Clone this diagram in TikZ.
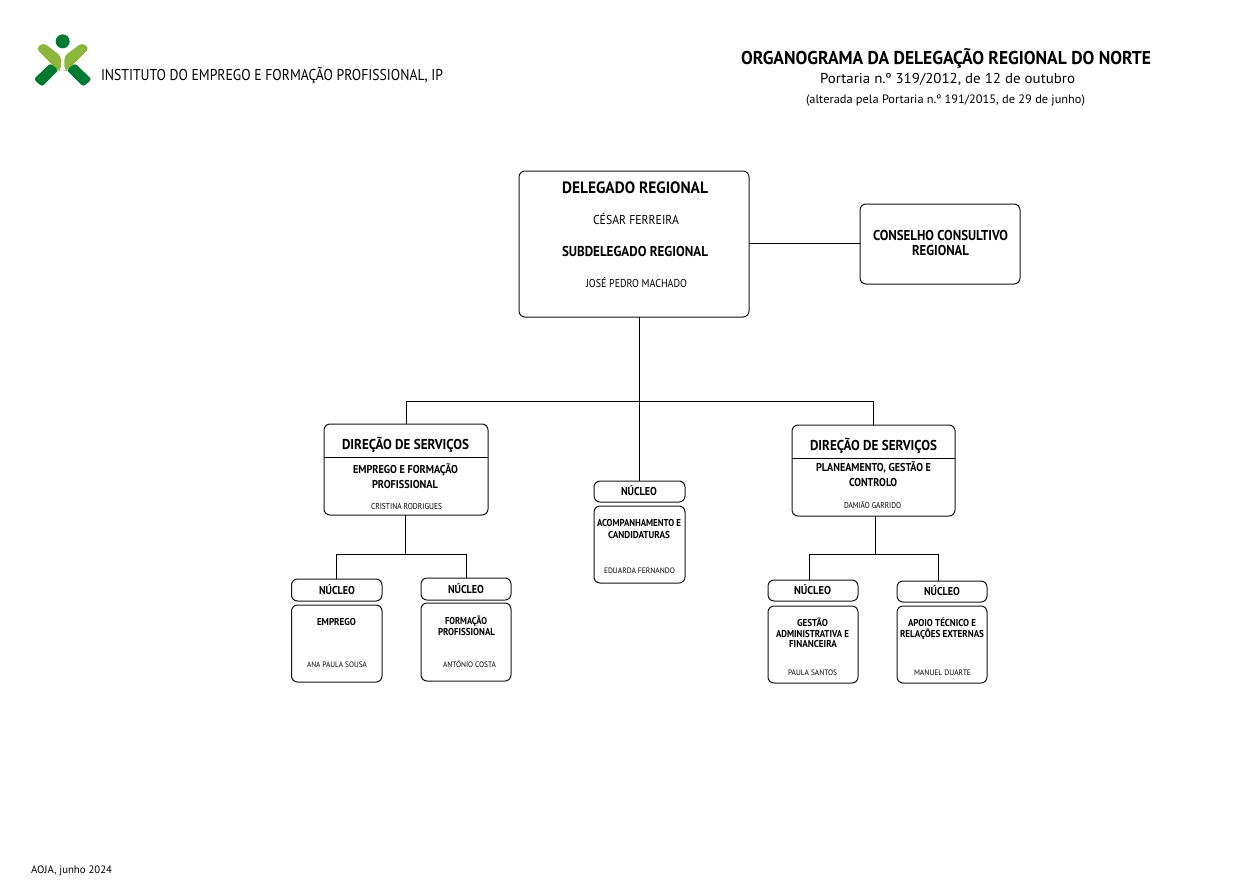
\documentclass[tikz,border=0pt]{standalone}
\usepackage{graphicx}
\usepackage{fontspec}
\setmainfont{PT Sans}
\definecolor{logolight}{RGB}{140,182,60}
\definecolor{logodark}{RGB}{0,122,51}
\definecolor{linecol}{RGB}{20,20,20}
\newsavebox\fitbox
% scale a text horizontally to the width (px) that it has in the reference
\newcommand\fitw[2]{\sbox\fitbox{#2}\pgfmathsetmacro\fitsx{#1*0.75/(\wd\fitbox/1pt)}\scalebox{\fitsx}[1]{\usebox\fitbox}}
% name, x1, x2, y centre, cap height (px), b/r, text
\newcommand\tx[7]{%
  \pgfmathsetmacro\txfs{#5/0.7*0.75}%
  \pgfmathsetmacro\txw{#3-#2}%
  \node[lbl] (#1) at ({(#2+#3)/2},{#4+#5/2}) {\fontsize{\txfs pt}{\txfs pt}\selectfont\ifx b#6\bfseries\fi\fitw{\txw}{#7}};}
% name, x1, y1, x2, y2
\newcommand\bx[5]{%
  \pgfmathsetmacro\bxw{(#4-#2)*0.75}\pgfmathsetmacro\bxh{(#5-#3)*0.75}%
  \node[orgbox,minimum width=\bxw pt,minimum height=\bxh pt] (#1) at ({(#2+#4)/2},{(#3+#5)/2}) {};}
\tikzset{
  orgbox/.style={draw=linecol,line width=0.75pt,rounded corners=4.5pt,inner sep=0pt,outer sep=0pt,fill=white},
  lbl/.style={anchor=base,inner sep=0pt,outer sep=0pt,text=black},
  link/.style={draw=black,line width=0.7pt},
}
\begin{document}
\begin{tikzpicture}[x=0.75pt,y=-0.75pt]
\useasboundingbox (0,0) rectangle (1251,892);
% logo
\begin{scope}[shift={(25,28)},x=0.25pt,y=-0.25pt]
  \fill[logodark] (113,40) circle (21);
  \fill[logolight,rounded corners=3pt] (55,44)--(108,84)--(108,128)--(100,128)--(33,61)--cycle;
  \fill[logolight,rounded corners=3pt] (171,44)--(118,84)--(118,128)--(126,128)--(193,61)--cycle;
  \fill[logodark,rounded corners=2pt] (76,106)--(26,154)--(51,176)--(101,126)--cycle;
  \fill[logodark,rounded corners=2pt] (150,106)--(200,154)--(175,176)--(125,126)--cycle;
\end{scope}
\tx{logotext}{101}{443}{75}{11}{r}{INSTITUTO DO EMPREGO E FORMAÇÃO PROFISSIONAL, IP}
\tx{title}{741}{1151}{58}{13}{b}{ORGANOGRAMA DA DELEGAÇÃO REGIONAL DO NORTE}
\tx{portaria}{820}{1075}{79}{10}{r}{Portaria n.º 319/2012, de 12 de outubro}
\tx{alterada}{806}{1085}{99}{8.5}{r}{(alterada pela Portaria n.º 191/2015, de 29 de junho)}
\tx{aoja}{31}{112}{870}{7.5}{r}{AOJA, junho 2024}
% boxes
\bx{del}{519}{171}{749}{317}
\bx{cons}{860}{204}{1020}{284}
\bx{dsl}{324}{424}{488}{515}
\bx{dsr}{792}{425}{955}{516}
\bx{nh1}{291.5}{579}{382}{601}
\bx{nb1}{291.5}{605}{382}{682}
\bx{nh2}{421}{578}{511}{600}
\bx{nb2}{421}{603}{511}{681}
\bx{nhc}{594}{481}{685}{502}
\bx{nbc}{594}{506}{685}{583}
\bx{nh3}{768}{580}{858}{601}
\bx{nb3}{768}{606}{858}{683}
\bx{nh4}{897}{581}{987}{602}
\bx{nb4}{897}{606}{987}{683}
% connectors
\coordinate (j1) at (639,401);
\coordinate (jl) at (405,554);
\coordinate (jr) at (875,554);
\coordinate (jr3) at (809,554);
\coordinate (jr4) at (938,554);
\coordinate (consy) at (860,243);
\coordinate (dvl) at (324,457.5);
\coordinate (dvr) at (792,458.5);
\draw[link] (consy -| del.east) -- (consy -| cons.west);
\draw[link] (j1 |- del.south) -- (j1);
\draw[link] (j1) -| (dsl.north);
\draw[link] (j1) -| (dsr.north);
\draw[link] (j1) -- (j1 |- nhc.north);
\draw[link] (jl |- dsl.south) -- (jl);
\draw[link] (jl) -| (nh1.north);
\draw[link] (jl) -| (nh2.north);
\draw[link] (jr |- dsr.south) -- (jr);
\draw[link] (jr3) -- (jr4);
\draw[link] (jr3) -- (jr3 |- nh3.north);
\draw[link] (jr4) -- (jr4 |- nh4.north);
\draw[link] (dvl) -- (dvl -| dsl.east);
\draw[link] (dvr) -- (dvr -| dsr.east);
% texts
\tx{t1}{562}{708}{188}{11.5}{b}{DELEGADO REGIONAL}
\tx{t2}{593}{679}{220}{9}{r}{CÉSAR FERREIRA}
\tx{t3}{562}{708}{251}{10}{b}{SUBDELEGADO REGIONAL}
\tx{t4}{586}{687}{283}{8}{r}{JOSÉ PEDRO MACHADO}
\tx{t5}{873}{1008}{235}{10}{b}{CONSELHO CONSULTIVO}
\tx{t6}{912}{969}{250}{10}{b}{REGIONAL}
\tx{t7}{342}{469}{444}{10}{b}{DIREÇÃO DE SERVIÇOS}
\tx{t8}{353}{458}{469}{8}{b}{EMPREGO E FORMAÇÃO}
\tx{t9}{372}{438}{484}{8}{b}{PROFISSIONAL}
\tx{t10}{371}{442}{506}{6}{r}{CRISTINA RODRIGUES}
\tx{t11}{319}{355}{590.5}{8}{b}{NÚCLEO}
\tx{t12}{448}{484}{589}{8}{b}{NÚCLEO}
\tx{t13}{317}{356}{622}{7}{b}{EMPREGO}
\tx{t14}{445}{487}{620.5}{7}{b}{FORMAÇÃO}
\tx{t15}{438}{495}{631.5}{7}{b}{PROFISSIONAL}
\tx{t16}{307}{367}{665}{5.5}{r}{ANA PAULA SOUSA}
\tx{t17}{443}{496}{665}{5.5}{r}{ANTÓNIO COSTA}
\tx{t18}{621}{657}{491.5}{8}{b}{NÚCLEO}
\tx{t19}{597}{681}{523}{7}{b}{ACOMPANHAMENTO E}
\tx{t20}{608}{670}{534.5}{7}{b}{CANDIDATURAS}
\tx{t21}{604}{675}{571}{5.5}{r}{EDUARDA FERNANDO}
\tx{t22}{810}{937}{445}{10}{b}{DIREÇÃO DE SERVIÇOS}
\tx{t23}{816}{931}{467}{8}{b}{PLANEAMENTO, GESTÃO E}
\tx{t24}{849}{897}{482}{8}{b}{CONTROLO}
\tx{t25}{844}{901}{505}{6}{r}{DAMIÃO GARRIDO}
\tx{t26}{794}{831}{590.5}{8}{b}{NÚCLEO}
\tx{t27}{924}{960}{591.5}{8}{b}{NÚCLEO}
\tx{t28}{797}{828}{623}{7}{b}{GESTÃO}
\tx{t29}{776}{849}{633.5}{7}{b}{ADMINISTRATIVA E}
\tx{t30}{789}{837}{644}{7}{b}{FINANCEIRA}
\tx{t31}{788}{837}{673}{5.5}{r}{PAULA SANTOS}
\tx{t32}{908}{976}{623}{7}{b}{APOIO TÉCNICO E}
\tx{t33}{900}{984}{633.5}{7}{b}{RELAÇÕES EXTERNAS}
\tx{t34}{914}{971}{673}{5.5}{r}{MANUEL DUARTE}
\end{tikzpicture}
\end{document}
